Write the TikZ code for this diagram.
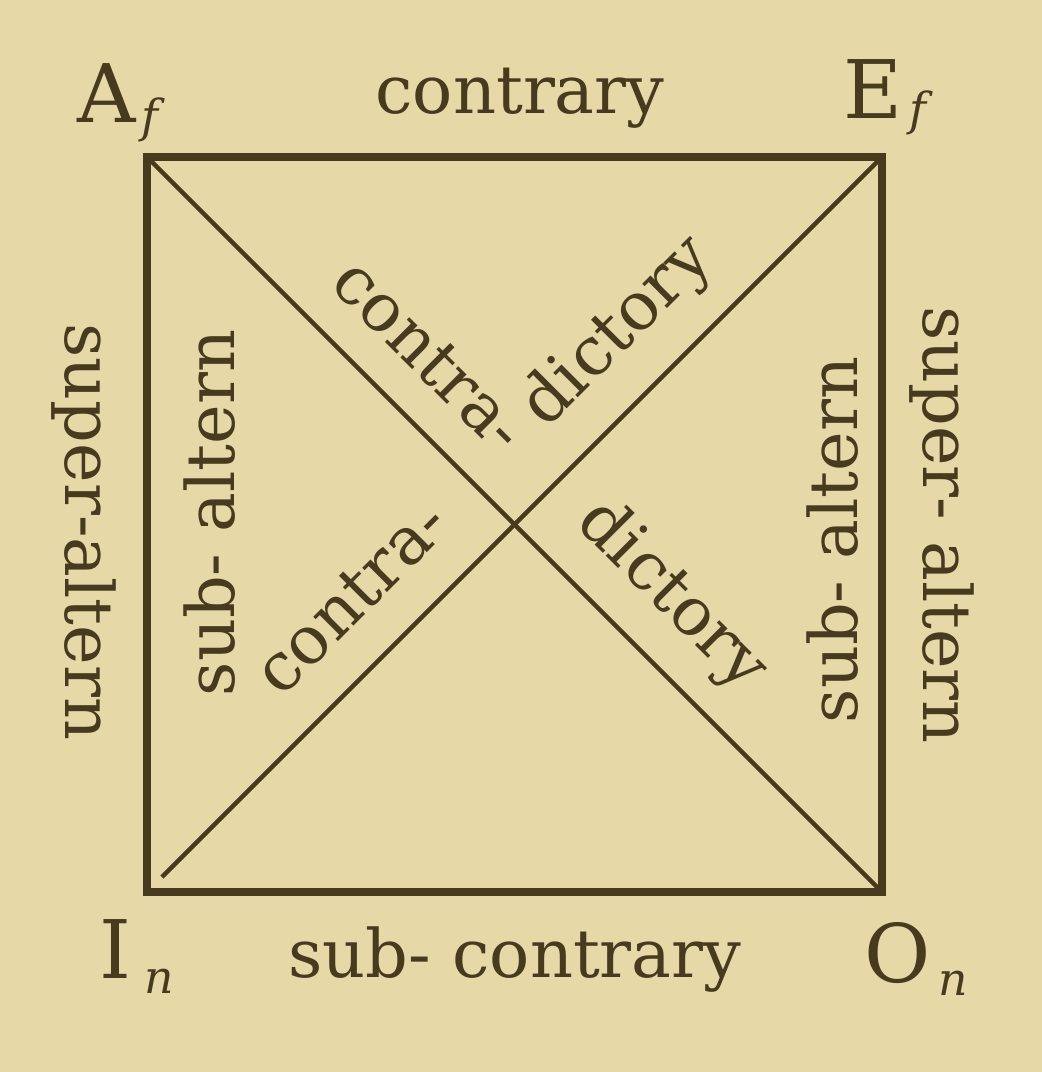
\documentclass[tikz,border=0pt]{standalone}
\usepackage{fontspec}
\setmainfont{DejaVu Serif}
\definecolor{bg}{RGB}{230,216,167}
\definecolor{ink}{RGB}{72,58,30}
\tikzset{
  sq/.style={draw=ink, line width=2.2pt, line join=miter},
  diag/.style={draw=ink, line width=1.3pt},
  lbl/.style={inner sep=0pt, anchor=base, text=ink, font=\fontsize{19}{19}\selectfont},
  corner/.style={inner sep=0pt, anchor=base east, text=ink, font=\fontsize{23}{23}\selectfont},
  subs/.style={inner sep=0pt, anchor=base west, text=ink, font=\fontsize{13}{13}\selectfont\itshape}
}
\begin{document}
\begin{tikzpicture}[x=0.01cm,y=-0.01cm]
\fill[bg] (0,0) rectangle (1042,1072);
\useasboundingbox (0,0) rectangle (1042,1072);
\coordinate (A) at (147,157);
\coordinate (E) at (882,157);
\coordinate (O) at (882,892);
\coordinate (I) at (147,892);
\draw[sq] (A) -- (E) -- (O) -- (I) -- cycle;
\draw[diag] (A) -- (O);
\draw[diag, shorten <=6pt] (I) -- (E);
\node[lbl] (top) at (520,113) {contrary};
\node[lbl] (bot) at (515,977) {sub- contrary};
\node[lbl, rotate=-90] (lo) at (65,532) {super-altern};
\node[lbl, rotate=90] (li) at (235,513) {sub- altern};
\node[lbl, rotate=90] (ri) at (857,540) {sub- altern};
\node[lbl, rotate=-90] (ro) at (923,525) {super- altern};
\node[lbl, rotate=-45] (c1) at (414,371) {contra-};
\node[lbl, rotate=45] (d1) at (631,345) {dictory};
\node[lbl, rotate=45] (c2) at (367,613) {contra-};
\node[lbl, rotate=-45] (d2) at (659,609) {dictory};
\node[corner] (la) at (137,122) {A};
\node[subs] (lasub) at (141,132) {f};
\node[corner] (le) at (903,118) {E};
\node[subs] (lesub) at (909,125) {f};
\node[corner] (li2) at (132,978) {I};
\node[subs] (lisub) at (144,993) {n};
\node[corner] (lo2) at (932,982) {O};
\node[subs] (losub) at (938,995) {n};
\end{tikzpicture}
\end{document}
